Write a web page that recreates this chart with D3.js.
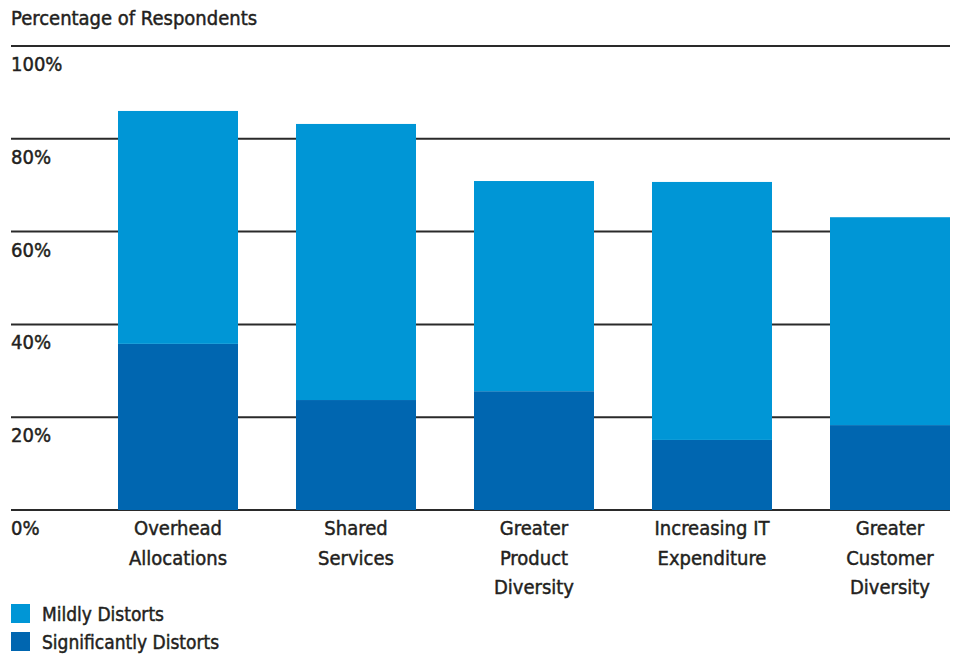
<!DOCTYPE html>
<html>
<head>
<meta charset="utf-8">
<script src="https://cdn.jsdelivr.net/npm/d3@7"></script>
<style>
  html, body { margin: 0; padding: 0; background: #fff; }
  svg text {
    font-family: "Liberation Sans Narrow", "DejaVu Sans Condensed", "Roboto Condensed", sans-serif;
    fill: #231f20; stroke: #231f20; stroke-width: 0.45px;
  }
</style>
</head>
<body>
<svg id="chart" width="956" height="654"></svg>
<script>
// Share of respondents (%) by factor that distorts costing
const categories = [
  ["Overhead", "Allocations"],
  ["Shared", "Services"],
  ["Greater", "Product", "Diversity"],
  ["Increasing IT", "Expenditure"],
  ["Greater", "Customer", "Diversity"]
];
const significantly = [35.8, 23.7, 25.6, 15.1, 18.3];
const mildly = [50.2, 59.5, 45.3, 55.6, 44.8];
const yTicks = [0, 20, 40, 60, 80, 100];
const seriesNames = ["Mildly Distorts", "Significantly Distorts"];
const colors = ["#0096d6", "#0066b0"];

const svg = d3.select("#chart");
const keys = categories.map(c => c.join(" "));

const x = d3.scaleBand()
  .domain(keys)
  .range([89, 979])
  .paddingInner(58 / 178)
  .paddingOuter(29 / 178);

const y = d3.scaleLinear().domain([0, 100]).range([510, 46]);

// Title
svg.append("text")
  .attr("x", 11).attr("y", 25)
  .attr("font-size", 20)
  .text("Percentage of Respondents");

// Gridlines and tick labels
const grid = svg.append("g");
grid.selectAll("line").data(yTicks).join("line")
  .attr("x1", 11).attr("x2", 950)
  .attr("y1", d => y(d)).attr("y2", d => y(d))
  .attr("stroke", "#2a2a2a").attr("stroke-width", 2);
grid.selectAll("text").data(yTicks).join("text")
  .attr("x", 11).attr("y", d => y(d) + 25)
  .attr("font-size", 20)
  .text(d => d + "%");

// Stacked bars
const rows = keys.map((k, i) => ({ key: k, significantly: significantly[i], mildly: mildly[i] }));
const stack = d3.stack().keys(["significantly", "mildly"])(rows);
const colorOf = { significantly: colors[1], mildly: colors[0] };

svg.append("g").selectAll("g").data(stack).join("g")
  .attr("fill", s => colorOf[s.key])
  .selectAll("rect").data(s => s).join("rect")
  .attr("x", d => x(d.data.key))
  .attr("width", x.bandwidth())
  .attr("y", d => y(d[1]))
  .attr("height", d => y(d[0]) - y(d[1]));

// Category labels
const cat = svg.append("g").selectAll("text").data(categories).join("text")
  .attr("text-anchor", "middle")
  .attr("font-size", 20)
  .attr("x", (c, i) => x(keys[i]) + x.bandwidth() / 2)
  .attr("y", 535);
cat.selectAll("tspan").data(c => c).join("tspan")
  .attr("x", function () { return this.parentNode.getAttribute("x"); })
  .attr("dy", (d, j) => j === 0 ? 0 : 29.5)
  .text(d => d);

// Legend
const legend = svg.append("g").selectAll("g").data(seriesNames).join("g")
  .attr("transform", (d, i) => `translate(11, ${604 + i * 28})`);
legend.append("rect")
  .attr("width", 19).attr("height", 19)
  .attr("fill", (d, i) => colors[i]);
legend.append("text")
  .attr("x", 31).attr("y", 17)
  .attr("font-size", 19)
  .text(d => d);
</script>
</body>
</html>
